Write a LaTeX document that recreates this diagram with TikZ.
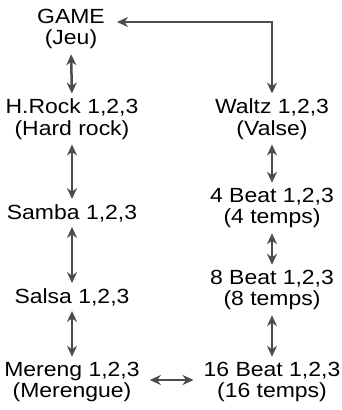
\documentclass[tikz,border=0pt]{standalone}
\usepackage{fontspec}
\setmainfont[FakeStretch=1.12]{Liberation Sans}
\usepackage{tikz}
\usetikzlibrary{arrows.meta}
\tikzstyle{dance}=[align=center,inner sep=0pt,font=\fontsize{20.5}{21.5}\selectfont]
\tikzstyle{arr}=[{Stealth[length=11pt,width=10pt]}-{Stealth[length=11pt,width=10pt]},draw=black!70,line width=2.5pt,shorten <=5pt,shorten >=5pt]

\begin{document}
\begin{tikzpicture}[x=1pt,y=1pt]
    \useasboundingbox (0,0) rectangle (341,-410);
    \node[dance] (game) at (71,-29) {GAME\\(Jeu)};
    \node[dance] (hrock) at (72,-119) {H.Rock 1,2,3\\(Hard rock)};
    \node[dance] (samba) at (72,-213) {Samba 1,2,3};
    \node[dance] (salsa) at (72,-297) {Salsa 1,2,3};
    \node[dance] (mereng) at (72,-382) {Mereng 1,2,3\\(Merengue)};
    \node[dance] (waltz) at (272,-119) {Waltz 1,2,3\\(Valse)};
    \node[dance] (beatfour) at (272,-208) {4 Beat 1,2,3\\(4 temps)};
    \node[dance] (beateight) at (272,-290) {8 Beat 1,2,3\\(8 temps)};
    \node[dance] (beatsixteen) at (272,-382) {16 Beat 1,2,3\\(16 temps)};
    \draw[arr] (game.south) -- (hrock.north);
    \draw[arr] (hrock.south) -- (samba.north);
    \draw[arr] (samba.south) -- (salsa.north);
    \draw[arr] (salsa.south) -- (mereng.north);
    \draw[arr] (waltz.south) -- (beatfour.north);
    \draw[arr] (beatfour.south) -- (beateight.north);
    \draw[arr] (beateight.south) -- (beatsixteen.north);
    \draw[arr,shorten <=10pt,shorten >=10pt] (mereng.east |- 0,-380) -- (beatsixteen.west |- 0,-380);
    \draw[arr,shorten >=12pt] (waltz.north) |- (game.east |- 0,-22);
\end{tikzpicture}
\end{document}
